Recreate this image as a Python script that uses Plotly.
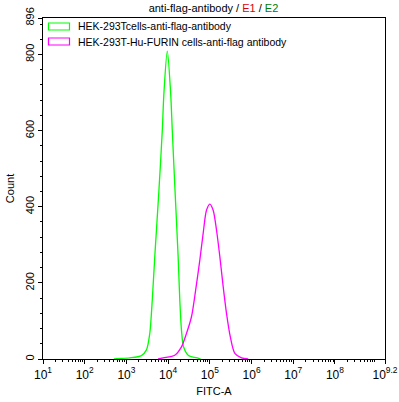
import plotly.graph_objects as go

# ---- data (FITC-A as log10 values, counts) ----
green_name = "HEK-293Tcells-anti-flag-antibody"
green_log10 = [2.70, 2.76, 3.08, 3.36, 3.48, 3.56, 3.62, 3.68, 3.78, 3.86, 3.90, 3.98,
               4.06, 4.10, 4.165, 4.24, 4.28, 4.32, 4.37, 4.48, 4.72, 4.78]
green_count = [0, 1, 3, 9, 24, 67, 155, 269, 444, 600, 700, 809,
               700, 600, 444, 269, 155, 76, 32, 10, 2, 0]

magenta_name = "HEK-293T-Hu-FURIN cells-anti-flag antibody"
magenta_log10 = [3.76, 3.88, 4.16, 4.32, 4.44, 4.56, 4.66, 4.76, 4.84, 4.92, 5.00,
                 5.08, 5.16, 5.24, 5.32, 5.40, 5.49, 5.60, 5.76, 5.92]
magenta_count = [0, 3, 10, 32, 67, 111, 181, 260, 330, 391, 407,
                 391, 339, 269, 190, 120, 59, 15, 3, 0]

x_major_exp = [1, 2, 3, 4, 5, 6, 7, 8, 9.2]
x_major_text = ["10<sup>1</sup>", "10<sup>2</sup>", "10<sup>3</sup>", "10<sup>4</sup>",
                "10<sup>5</sup>", "10<sup>6</sup>", "10<sup>7</sup>", "10<sup>8</sup>",
                "10<sup>9.2</sup>"]
y_major = [0, 200, 400, 600, 800, 896]
y_major_text = ["0", "200", "400", "600", "800", "896"]

GREEN = "#00ff00"
MAGENTA = "#ff00ff"
FONT = "Liberation Sans, Arial, sans-serif"

fig = go.Figure()
fig.add_trace(go.Scatter(x=[10 ** v for v in green_log10], y=green_count, mode="lines",
                         line=dict(color=GREEN, width=1.3, shape="spline", smoothing=0.8),
                         name=green_name, showlegend=False))
fig.add_trace(go.Scatter(x=[10 ** v for v in magenta_log10], y=magenta_count, mode="lines",
                         line=dict(color=MAGENTA, width=1.3, shape="spline", smoothing=0.8),
                         name=magenta_name, showlegend=False))

minor_x = [m * 10 ** d for d in range(1, 9) for m in range(2, 10)]
minor_y = [v for v in range(40, 896, 40) if v % 200 != 0]

fig.update_layout(
    width=399, height=402,
    margin=dict(l=43, r=14, t=18, b=43, autoexpand=False),
    paper_bgcolor="white", plot_bgcolor="white",
    font=dict(family=FONT, size=11, color="black"),
    title=dict(text='anti-flag-antibody / <span style="color:#e00000">E1</span> / '
                    '<span style="color:#008000">E2</span>',
               x=0.535, xanchor="center", y=1 - 8.5 / 402, yanchor="middle",
               font=dict(size=11, color="black")),
    xaxis=dict(type="log", range=[1, 9.2], showgrid=False, zeroline=False, automargin=False,
               showline=True, linecolor="black", linewidth=1.2, mirror=True,
               ticks="outside", ticklen=4, tickcolor="black", tickwidth=1,
               tickmode="array", tickvals=[10 ** e for e in x_major_exp], ticktext=x_major_text,
               tickfont=dict(size=12, color="black"),
               minor=dict(tickmode="array", tickvals=minor_x, ticks="outside",
                          ticklen=2, tickcolor="black", tickwidth=1),
               title=dict(text="FITC-A", font=dict(size=11), standoff=6)),
    yaxis=dict(range=[0, 896], showgrid=False, zeroline=False, automargin=False,
               showline=True, linecolor="black", linewidth=1.2, mirror=True,
               ticks="outside", ticklen=4, tickcolor="black", tickwidth=1,
               tickmode="array", tickvals=y_major, ticktext=y_major_text, tickangle=-90,
               tickfont=dict(size=11, color="black"),
               minor=dict(tickmode="array", tickvals=minor_y, ticks="outside",
                          ticklen=2, tickcolor="black", tickwidth=1),
               title=dict(text="Count", font=dict(size=11), standoff=6)),
)

# legend drawn as outlined boxes with text (as in the reference)
def px_x(p):
    return (p - 43) / 342

def px_y(p):
    return (359 - p) / 341

for (color, label, ytop) in [(GREEN, green_name, 23), (MAGENTA, magenta_name, 38)]:
    fig.add_shape(type="rect", xref="paper", yref="paper",
                  x0=px_x(48.5), x1=px_x(69.5), y0=px_y(ytop), y1=px_y(ytop + 7),
                  line=dict(color=color, width=1.2), fillcolor="rgba(0,0,0,0)")
    fig.add_annotation(xref="paper", yref="paper", x=px_x(75.5), y=px_y(ytop + 3.5),
                       xanchor="left", yanchor="middle", text=label, showarrow=False,
                       font=dict(size=10.5, color="black"))

fig.write_html("out.html", config={"displayModeBar": False},
               post_script="document.body.style.margin='0';document.body.style.padding='0';")
